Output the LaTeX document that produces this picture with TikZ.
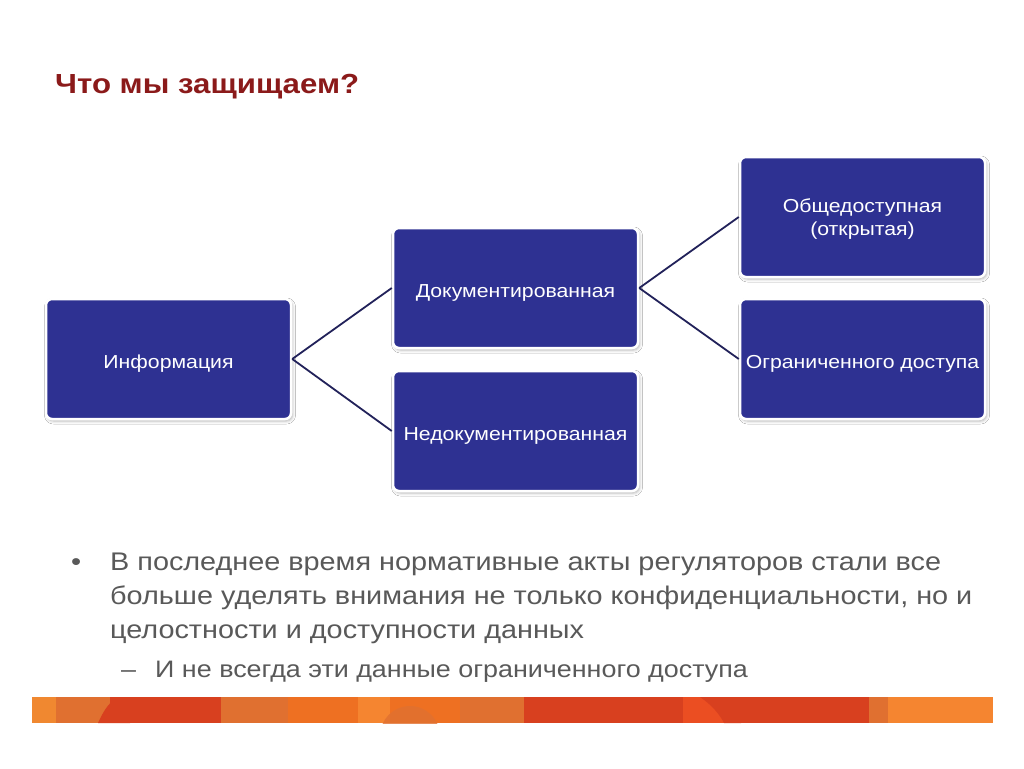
\documentclass[tikz,border=0pt]{standalone}
\usepackage{fontspec}
\setmainfont[FakeStretch=1.13]{Liberation Sans}
\usetikzlibrary{shadows.blur}
\definecolor{boxblue}{HTML}{2E3192}
\definecolor{linenavy}{HTML}{22225A}
\definecolor{titlered}{HTML}{8B1A1A}
\definecolor{bodygray}{HTML}{595959}
\definecolor{barA}{HTML}{F08830}
\definecolor{barB}{HTML}{E07030}
\definecolor{barC}{HTML}{D8401F}
\definecolor{barD}{HTML}{EE7022}
\definecolor{barE}{HTML}{F58530}
\definecolor{barF}{HTML}{EB4E22}
\tikzset{
  infobox/.style={draw=white, line width=2.5pt, fill=boxblue, rounded corners=6pt,
    minimum width=245pt, minimum height=120pt, text=white, align=center,
    font=\fontsize{18.8}{23}\selectfont, inner sep=2pt, text height=18pt, text depth=0pt,
    blur shadow={shadow xshift=1.5pt, shadow yshift=-2pt, shadow blur radius=3pt, shadow opacity=30}},
  link/.style={draw=linenavy, line width=1.8pt},
  bodytext/.style={anchor=base west, text=bodygray, font=\fontsize{25.5}{30}\selectfont, inner sep=0pt},
  subtext/.style={anchor=base west, text=bodygray, font=\fontsize{23.8}{28}\selectfont, inner sep=0pt},
}
\begin{document}
\begin{tikzpicture}[x=1pt,y=-1pt]
\useasboundingbox (0,0) rectangle (1024,768);
\fill[white] (0,0) rectangle (1024,768);
% title
\node[anchor=base west, inner sep=0pt, text=titlered, font=\fontsize{27.6}{32}\selectfont\bfseries] (title) at (55,93) {Что мы защищаем?};
% boxes
\node[infobox] (info) at (168.5,359) {Информация};
\node[infobox] (doc) at (515.5,288) {Документированная};
\node[infobox] (undoc) at (515.5,431) {Недокументированная};
\node[infobox, text height=36pt] (pub) at (862.5,217) {Общедоступная\\(открытая)};
\node[infobox] (restr) at (862.5,359) {Ограниченного доступа};
% connectors
\draw[link] (info.east) -- (doc.west);
\draw[link] (info.east) -- (undoc.west);
\draw[link] (doc.east) -- (pub.west);
\draw[link] (doc.east) -- (restr.west);
% bullet text
\node[bodytext] (b1) at (71,570) {•};
\node[bodytext] (l1) at (110,570) {В последнее время нормативные акты регуляторов стали все};
\node[bodytext] (l2) at (110,604) {больше уделять внимания не только конфиденциальности, но и};
\node[bodytext] (l3) at (110,638) {целостности и доступности данных};
\node[subtext] (b2) at (121,677) {–};
\node[subtext] (l4) at (155,677) {И не всегда эти данные ограниченного доступа};
% orange bar
\fill[barA] (32,697) rectangle (56,723);
\fill[barB] (56,697) rectangle (110,723);
\fill[barC] (110,697) rectangle (221,723);
\fill[barB] (221,697) rectangle (288,723);
\fill[barD] (288,697) rectangle (358,723);
\fill[barE] (358,697) rectangle (390,723);
\fill[barD] (390,697) rectangle (460,723);
\fill[barB] (460,697) rectangle (524,723);
\fill[barC] (524,697) rectangle (683,723);
\fill[barF] (683,697) rectangle (741,723);
\fill[barC] (741,697) rectangle (869,723);
\fill[barB] (869,697) rectangle (888,723);
\fill[barE] (888,697) rectangle (993,723);
\begin{scope}
\clip (32,697) rectangle (993,723);
\fill[barC] (98,723) .. controls (104,710) and (110,700) .. (120,697) -- (130,697) -- (130,723) -- cycle;
\fill[barB, opacity=0.8] (410,736) circle (30);
\fill[barC] (700,697) .. controls (712,705) and (720,715) .. (724,723) -- (741,723) -- (741,697) -- cycle;
\end{scope}
\end{tikzpicture}
\end{document}
